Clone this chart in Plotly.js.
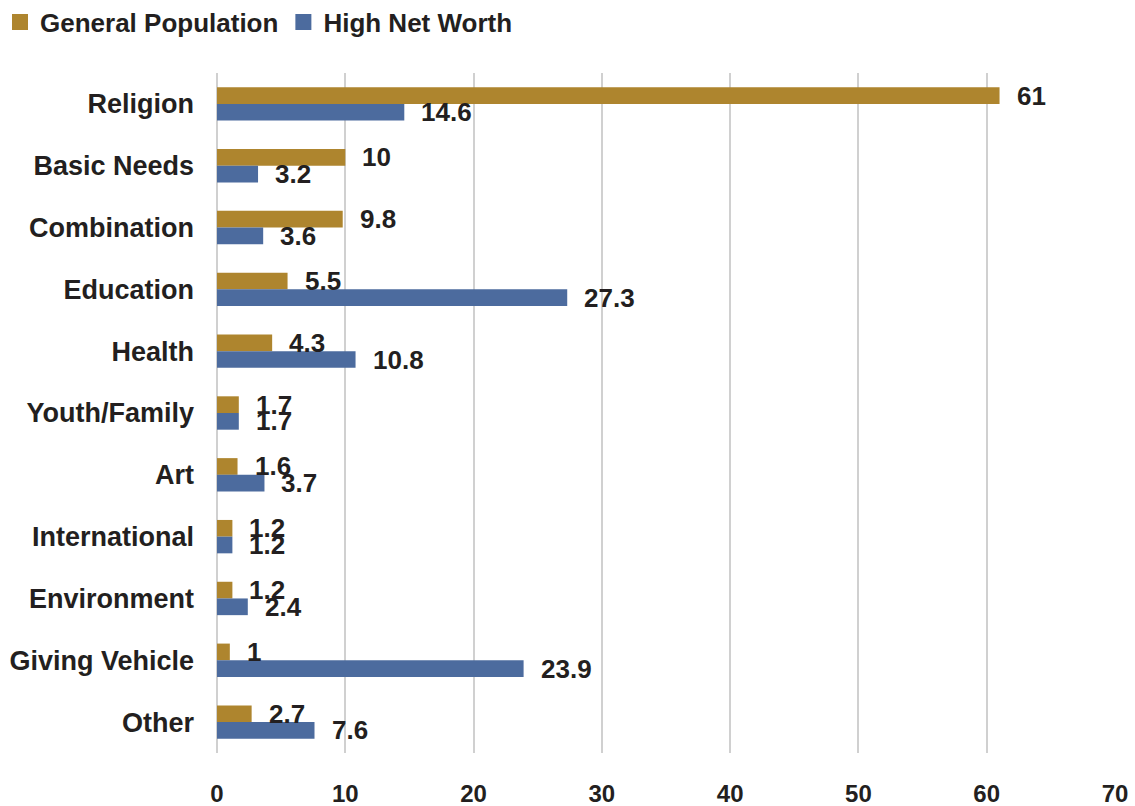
<!DOCTYPE html>
<html>
<head>
<meta charset="utf-8">
<script src="https://cdn.plot.ly/plotly-3.0.1.min.js"></script>
<style>html,body{margin:0;padding:0;background:#fff;}#chart{width:1135px;height:806px;}</style>
</head>
<body>
<div id="chart"></div>
<script>
const categories = ["Religion","Basic Needs","Combination","Education","Health","Youth/Family","Art","International","Environment","Giving Vehicle","Other"];
const generalPopulation = [61, 10, 9.8, 5.5, 4.3, 1.7, 1.6, 1.2, 1.2, 1, 2.7];
const highNetWorth = [14.6, 3.2, 3.6, 27.3, 10.8, 1.7, 3.7, 1.2, 2.4, 23.9, 7.6];
const seriesNames = ["General Population", "High Net Worth"];
const xTicks = [0, 10, 20, 30, 40, 50, 60, 70];

const gold = "#AE852E";
const blue = "#4C6B9E";
const fontFam = "Liberation Sans, Arial, sans-serif";
const textColor = "#231F20";

const traces = [
  {type: "bar", orientation: "h", name: seriesNames[0], y: categories, x: generalPopulation,
   marker: {color: gold}, showlegend: false, legendgroup: "g"},
  {type: "bar", orientation: "h", name: seriesNames[1], y: categories, x: highNetWorth,
   marker: {color: blue}, showlegend: false, legendgroup: "h"},
  // legend entries with larger square symbols
  {type: "scatter", mode: "markers", name: seriesNames[0], x: [null], y: [null],
   marker: {symbol: "square", size: 16, color: gold}, legendgroup: "g", showlegend: true},
  {type: "scatter", mode: "markers", name: seriesNames[1], x: [null], y: [null],
   marker: {symbol: "square", size: 16, color: blue}, legendgroup: "h", showlegend: true}
];

const annotations = [];
const bargap = 0.46, w = (1 - bargap) / 2;
[generalPopulation, highNetWorth].forEach((vals, ti) => {
  vals.forEach((v, i) => {
    const off = -((1 - bargap) / 2) + w * (ti + 0.5);
    annotations.push({
      x: v, y: i + off, xref: "x", yref: "y", text: "<b>" + v + "</b>",
      showarrow: false, xanchor: "left", yanchor: "middle", xshift: 15, yshift: 0,
      font: {family: fontFam, size: 26, color: textColor}
    });
  });
});

const layout = {
  width: 1135, height: 806,
  margin: {l: 217, r: 20, t: 73, b: 53, autoexpand: false},
  paper_bgcolor: "#fff", plot_bgcolor: "#fff",
  barmode: "group", bargap: bargap, bargroupgap: 0,
  showlegend: true,
  legend: {orientation: "h", xref: "container", yref: "container", x: 0, xanchor: "left",
           y: 1 - 22 / 806, yanchor: "middle",
           font: {family: fontFam, size: 26, color: textColor, weight: "bold"},
           itemwidth: 30, traceorder: "normal", bgcolor: "rgba(0,0,0,0)"},
  xaxis: {range: [0, 70], tickvals: xTicks, ticktext: xTicks.map(t => "<b>" + t + "</b>"),
          showgrid: true, gridcolor: "#D0D0D0", gridwidth: 2, zeroline: true, zerolinecolor: "#D0D0D0", zerolinewidth: 2,
          showline: false, ticks: "", ticklabelstandoff: 24,
          tickfont: {family: fontFam, size: 24, color: textColor}, fixedrange: true},
  yaxis: {type: "category", autorange: "reversed", showgrid: false, zeroline: false, showline: false,
          ticks: "", ticklabelstandoff: 22, tickvals: categories, ticktext: categories.map(c => "<b>" + c + "</b>"),
          tickfont: {family: fontFam, size: 27, color: textColor}, fixedrange: true},
  annotations: annotations
};

Plotly.newPlot("chart", traces, layout, {displayModeBar: false, staticPlot: true});
</script>
</body>
</html>
